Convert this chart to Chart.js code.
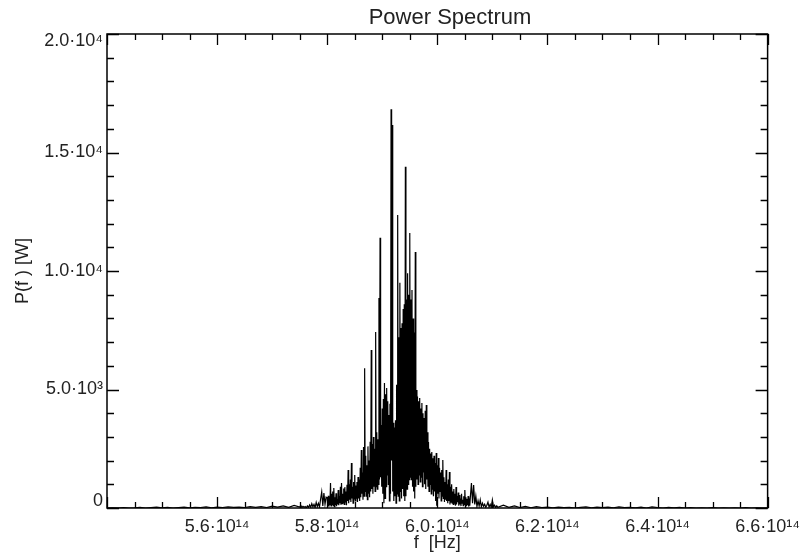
<!DOCTYPE html>
<html>
<head>
<meta charset="utf-8">
<script src="https://cdn.jsdelivr.net/npm/chart.js@4.4.1/dist/chart.umd.min.js"></script>
<style>
  html, body { margin: 0; padding: 0; background: #fff; }
  canvas { display: block; }
</style>
</head>
<body>
<canvas id="spectrum" width="808" height="558"></canvas>
<script>
// frequencies are in units of 1e14 Hz, power in W
const freqLow = [
  5.40,5.41,5.42,5.43,5.44,5.45,5.46,5.47,5.48,5.49,
  5.50,5.51,5.52,5.53,5.54,5.55,5.56,5.57,5.58,5.59,
  5.60,5.61,5.62,5.63,5.64,5.65,5.66,5.67,5.68,5.69,
  5.70,5.71,5.72,5.73,5.74
];
const powerLow = [
  0,10,0,20,0,10,30,0,20,40,
  10,30,0,20,40,10,30,20,50,10,
  40,20,50,30,40,20,60,30,60,20,
  80,40,90,30,110
];

const freqRise = [
  5.750,5.752,5.754,5.756,5.758,5.760,5.762,5.764,5.766,5.768,
  5.770,5.772,5.774,5.776,5.778,5.780,5.782,5.784,5.786,5.788,
  5.790,5.792,5.794,5.796,5.798
];
const powerRise = [
  40,110,20,70,30,60,10,90,20,130,
  30,180,50,150,20,240,60,200,40,380,
  680,90,630,160,460
];

const freqCore = [
  5.800,5.801,5.802,5.803,5.804,5.805,5.806,5.807,5.808,5.809,
  5.810,5.811,5.812,5.813,5.814,5.815,5.816,5.817,5.818,5.819,
  5.820,5.821,5.822,5.823,5.824,5.825,5.826,5.827,5.828,5.829,
  5.830,5.831,5.832,5.833,5.834,5.835,5.836,5.837,5.838,5.839,
  5.840,5.841,5.842,5.843,5.844,5.845,5.846,5.847,5.848,5.849,
  5.850,5.851,5.852,5.853,5.854,5.855,5.856,5.857,5.858,5.859,
  5.860,5.861,5.862,5.863,5.864,5.865,5.866,5.867,5.868,5.869,
  5.870,5.871,5.872,5.873,5.874,5.875,5.876,5.877,5.878,5.879,
  5.880,5.881,5.882,5.883,5.884,5.885,5.886,5.887,5.888,5.889,
  5.890,5.891,5.892,5.893,5.894,5.895,5.896,5.897,5.898,5.899,
  5.900,5.901,5.902,5.903,5.904,5.905,5.906,5.907,5.908,5.909,
  5.910,5.911,5.912,5.913,5.914,5.915,5.916,5.917,5.918,5.919,
  5.920,5.921,5.922,5.923,5.924,5.925,5.926,5.927,5.928,5.929,
  5.930,5.931,5.932,5.933,5.934,5.935,5.936,5.937,5.938,5.939,
  5.940,5.941,5.942,5.943,5.944,5.945,5.946,5.947,5.948,5.949,
  5.950,5.951,5.952,5.953,5.954,5.955,5.956,5.957,5.958,5.959,
  5.960,5.961,5.962,5.963,5.964,5.965,5.966,5.967,5.968,5.969,
  5.970,5.971,5.972,5.973,5.974,5.975,5.976,5.977,5.978,5.979,
  5.980,5.981,5.982,5.983,5.984,5.985,5.986,5.987,5.988,5.989,
  5.990,5.991,5.992,5.993,5.994,5.995,5.996,5.997,5.998,5.999,
  6.000,6.001,6.002,6.003,6.004,6.005,6.006,6.007,6.008,6.009,
  6.010,6.011,6.012,6.013,6.014,6.015,6.016,6.017,6.018,6.019,
  6.020,6.021,6.022,6.023,6.024,6.025,6.026,6.027,6.028,6.029,
  6.030,6.031,6.032,6.033,6.034,6.035,6.036,6.037,6.038,6.039,
  6.040,6.041,6.042,6.043,6.044,6.045,6.046,6.047,6.048,6.049,
  6.050,6.051,6.052,6.053,6.054,6.055,6.056,6.057,6.058,6.059,
  6.060
];
const powerCore = [
  420,80,520,60,300,120,1050,90,600,150,
  700,100,840,60,450,130,620,80,380,150,
  760,120,500,200,900,140,1050,180,600,220,
  820,150,880,260,700,120,980,300,1600,200,
  1000,350,1200,250,1900,400,900,200,1100,380,
  1390,300,950,420,1100,250,1310,400,1200,300,
  1700,450,2450,600,1500,350,2570,500,5900,700,
  2200,500,1800,350,2600,600,2000,450,2800,700,
  6670,800,2700,600,3000,900,2500,700,7430,900,
  3200,800,2900,1000,8860,1200,11400,1300,3500,900,
  4200,600,4600,200,5270,400,4800,900,5060,1400,
  4500,1000,3920,300,4400,600,16830,2000,16160,700,
  3600,300,3400,500,3700,200,5200,600,12360,500,
  7200,300,9500,700,7600,400,7800,800,8400,500,
  8600,300,14400,500,8800,800,9900,1000,9000,1200,
  11600,1300,8800,1200,9200,900,8000,700,7400,400,
  10800,900,4980,1200,4700,1000,4500,1400,4640,1100,
  4200,1300,4430,900,4000,1500,3800,1000,4100,800,
  4350,1200,3200,900,2780,700,2500,1000,2300,600,
  2360,800,2100,500,2200,700,1900,300,2320,100,
  1800,600,2110,400,1700,700,1500,300,1600,500,
  2030,400,1300,250,1100,350,1600,300,1000,200,
  1200,300,1520,150,900,250,1000,200,700,150,
  800,200,600,100,890,150,500,250,650,100,
  550,150,400,80,600,200,350,100,500,150,
  760,150,450,80,380,120,500,60,300,100,
  450
];

const freqFall = [
  6.062,6.064,6.066,6.068,6.070,6.072,6.074,6.076,6.078,6.080,
  6.082,6.084,6.086,6.088,6.090,6.092,6.094,6.096,6.098,6.100,
  6.102,6.104,6.106,6.108,6.110
];
const powerFall = [
  1050,200,970,150,500,60,300,80,340,50,
  200,70,160,30,120,250,40,150,30,340,
  50,120,20,90,30
];

const freqHigh = [
  6.12,6.13,6.14,6.15,6.16,6.17,6.18,6.19,6.20,
  6.21,6.22,6.23,6.24,6.25,6.26,6.27,6.28,6.29,6.30,
  6.31,6.32,6.33,6.34,6.35,6.36,6.37,6.38,6.39,6.40,
  6.41,6.42,6.43,6.44,6.45,6.46,6.47,6.48,6.49,6.50,
  6.51,6.52,6.53,6.54,6.55,6.56,6.57,6.58,6.59,6.60
];
const powerHigh = [
  120,30,90,20,70,10,60,20,40,
  10,40,20,30,0,30,50,10,40,20,
  40,10,50,20,30,10,40,0,50,20,
  0,30,10,30,0,20,0,10,0,20,
  0,10,0,10,0,20,0,10,0,0
];

const xTickValues = [5.6, 5.8, 6.0, 6.2, 6.4, 6.6];
const xTickLabels = ['5.6·10¹⁴', '5.8·10¹⁴', '6.0·10¹⁴', '6.2·10¹⁴', '6.4·10¹⁴', '6.6·10¹⁴'];
const yTickValues = [0, 5000, 10000, 15000, 20000];
const yTickLabels = ['0', '5.0·10³', '1.0·10⁴', '1.5·10⁴', '2.0·10⁴'];

const chartTitle = 'Power Spectrum';
const xTitle = 'f  [Hz]';
const yTitle = 'P(f ) [W]';

function toPoints(fs, ps) {
  return fs.map((f, i) => ({ x: f, y: ps[i] }));
}
const points = [].concat(
  toPoints(freqLow, powerLow),
  toPoints(freqRise, powerRise),
  toPoints(freqCore, powerCore),
  toPoints(freqFall, powerFall),
  toPoints(freqHigh, powerHigh)
);

const FONT = '"Liberation Sans", Arial, Helvetica, sans-serif';
const TEXT = '#222';

// IDL-style box with inward ticks on all four sides, plus the title
const boxPlugin = {
  id: 'boxPlugin',
  afterDraw(chart) {
    const { ctx, chartArea: a, scales: { x, y } } = chart;
    ctx.save();
    ctx.strokeStyle = '#000';
    ctx.lineWidth = 1.5;
    ctx.strokeRect(a.left, a.top, a.right - a.left, a.bottom - a.top);

    ctx.lineWidth = 1.3;
    ctx.beginPath();
    for (let k = 0; k <= 24; k++) {
      const v = x.min + k * 0.05;
      const major = k % 4 === 0;
      const len = major ? 11 : 6;
      const px = Math.round(x.getPixelForValue(v)) + 0.5;
      ctx.moveTo(px, a.bottom); ctx.lineTo(px, a.bottom - len);
      ctx.moveTo(px, a.top); ctx.lineTo(px, a.top + len);
    }
    for (let k = 0; k <= 20; k++) {
      const v = k * 1000;
      const major = k % 5 === 0;
      const len = major ? 12 : 7;
      const py = Math.round(y.getPixelForValue(v)) + 0.5;
      ctx.moveTo(a.left, py); ctx.lineTo(a.left + len, py);
      ctx.moveTo(a.right, py); ctx.lineTo(a.right - len, py);
    }
    ctx.stroke();

    ctx.fillStyle = TEXT;
    ctx.font = '22px ' + FONT;
    ctx.textAlign = 'center';
    ctx.textBaseline = 'alphabetic';
    ctx.fillText(chartTitle, 450, 24);
    ctx.restore();
  }
};

new Chart(document.getElementById('spectrum').getContext('2d'), {
  type: 'line',
  data: {
    datasets: [{
      data: points,
      borderColor: '#000',
      borderWidth: 1.2,
      pointRadius: 0,
      tension: 0,
      fill: false
    }]
  },
  options: {
    responsive: false,
    animation: false,
    events: [],
    layout: { padding: { top: 34, right: 38, left: 0, bottom: 0 } },
    plugins: {
      legend: { display: false },
      tooltip: { enabled: false },
      title: { display: false }
    },
    scales: {
      x: {
        type: 'linear',
        min: 5.4,
        max: 6.6,
        grid: { display: false, drawTicks: false },
        border: { display: false },
        afterBuildTicks: (s) => { s.ticks = xTickValues.map(v => ({ value: v })); },
        afterFit: (s) => { s.height = 50; },
        ticks: {
          autoSkip: false,
          maxRotation: 0,
          padding: 8,
          color: TEXT,
          font: { family: FONT, size: 18 },
          callback: (v, i) => xTickLabels[i]
        },
        title: {
          display: true,
          text: xTitle,
          color: TEXT,
          font: { family: FONT, size: 18 },
          padding: { top: 0, bottom: 4 }
        }
      },
      y: {
        type: 'linear',
        min: 0,
        max: 20000,
        grid: { display: false, drawTicks: false },
        border: { display: false },
        afterBuildTicks: (s) => { s.ticks = yTickValues.map(v => ({ value: v })); },
        afterFit: (s) => { s.width = 107; },
        ticks: {
          autoSkip: false,
          padding: 4,
          color: TEXT,
          font: { family: FONT, size: 18, lineHeight: 0.8 },
          // edge labels are nudged inside the box, as in the original plot
          callback: (v, i) => {
            const label = yTickLabels[i];
            if (i === 0) return [label, ''];
            if (i === yTickLabels.length - 1) return ['', label];
            return label;
          }
        },
        title: {
          display: true,
          text: yTitle,
          color: TEXT,
          font: { family: FONT, size: 18 },
          padding: { top: 12, bottom: 0 }
        }
      }
    }
  },
  plugins: [boxPlugin]
});
</script>
</body>
</html>
